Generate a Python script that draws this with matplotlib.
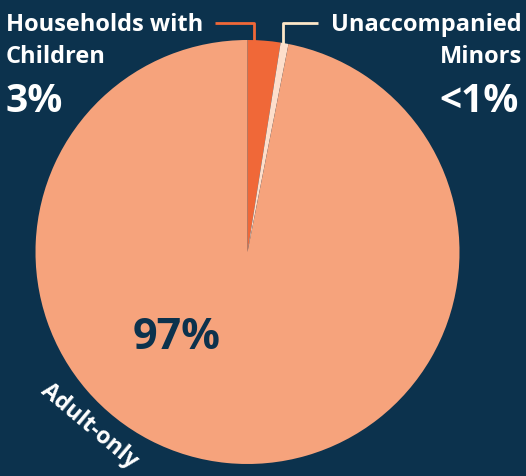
import numpy as np
import matplotlib
matplotlib.use("Agg")
import matplotlib.pyplot as plt

# Share of people by household type
categories = ["Households with Children", "Unaccompanied Minors", "Adult-only"]
shares = [2.5, 0.6, 96.9]
share_labels = ["3%", "<1%", "97%"]

BG = "#0c324d"
colors = ["#f06838", "#fddecb", "#f6a37c"]
line_colors = ["#f06838", "#fde7c8"]

W, H = 526, 476
CX, CY, R = 247.5, 252.0, 212.0


def px(x, y):
    # pixel position (from top-left) -> data coords with the pie at the origin
    return (x - CX) / R, (CY - y) / R


fig = plt.figure(figsize=(W / 100, H / 100), dpi=100, facecolor=BG)
ax = fig.add_axes([0, 0, 1, 1])
ax.set_facecolor(BG)

wedges, _ = ax.pie(shares, colors=colors, startangle=90, counterclock=False,
                   radius=1.0, center=(0, 0),
                   wedgeprops=dict(linewidth=0))
ax.set_aspect("auto")
x0, y0 = px(0, H)
x1, y1 = px(W, 0)
ax.set_xlim(x0, x1)
ax.set_ylim(y0, y1)
ax.axis("off")

font = "Open Sans"
lab_size = 17

# leader lines from the two small wedges up to their labels
line_y = px(0, 23)[1]
ends = [px(215, 0)[0], px(318, 0)[0]]
fracs = [0.2, 0.3]
for i in range(2):
    w = wedges[i]
    ang = np.radians(w.theta2 - fracs[i] * (w.theta2 - w.theta1))
    lx, ly = np.cos(ang), np.sin(ang)
    ax.plot([ends[i], lx, lx], [line_y, line_y, ly * 0.995],
            color=line_colors[i], lw=2, solid_capstyle="butt", zorder=3)

# left label
ax.text(*px(6, 31), "Households with", color="white", fontsize=lab_size,
        fontweight="bold", family=font, ha="left", va="baseline")
ax.text(*px(6, 63), "Children", color="white", fontsize=lab_size,
        fontweight="bold", family=font, ha="left", va="baseline")
ax.text(*px(5, 112), share_labels[0], color="white", fontsize=28,
        fontweight="bold", family=font, ha="left", va="baseline")

# right label
ax.text(*px(522, 31), "Unaccompanied", color="white", fontsize=lab_size,
        fontweight="bold", family=font, ha="right", va="baseline")
ax.text(*px(522, 63), "Minors", color="white", fontsize=lab_size,
        fontweight="bold", family=font, ha="right", va="baseline")
ax.text(*px(519, 112), share_labels[1], color="white", fontsize=28,
        fontweight="bold", family=font, ha="right", va="baseline")

# big share inside the pie
ax.text(*px(177, 349), share_labels[2], color=BG, fontsize=31,
        fontweight="bold", family=font, ha="center", va="baseline")

# category name along the rim
ax.text(*px(89, 426), categories[2], color="white", fontsize=16.5,
        fontweight="bold", family=font, ha="center", va="center",
        rotation=-40, rotation_mode="anchor")

fig.savefig("out.png", dpi=100, facecolor=BG)
